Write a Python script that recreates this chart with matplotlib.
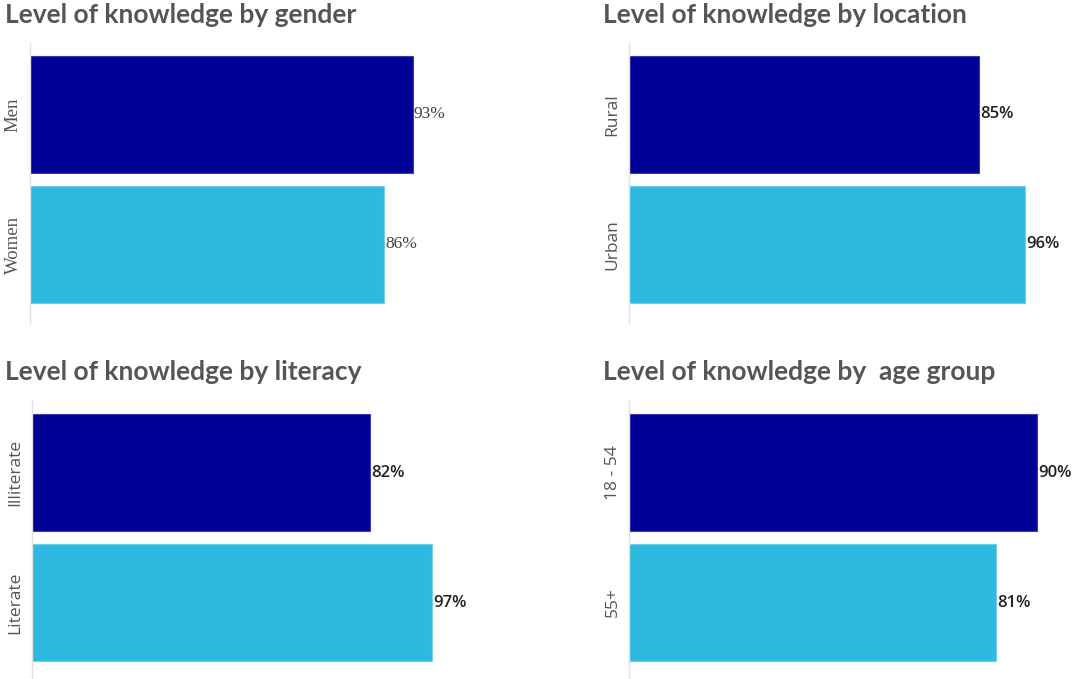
import matplotlib.pyplot as plt

# Survey results: share of respondents with knowledge, by group (%)
gender_labels = ["Men", "Women"]
gender_values = [93, 86]

location_labels = ["Rural", "Urban"]
location_values = [85, 96]

literacy_labels = ["Illiterate", "Literate"]
literacy_values = [82, 97]

age_labels = ["18 - 54", "55+"]
age_values = [90, 81]

titles = [
    "Level of knowledge by gender",
    "Level of knowledge by location",
    "Level of knowledge by literacy",
    "Level of knowledge by  age group",
]

DARK = "#000099"
LIGHT = "#2EBAE0"

W, H = 1072, 679
fig = plt.figure(figsize=(W / 100, H / 100), dpi=100)
fig.patch.set_facecolor("white")


def add_px_axes(x, y_top, w, h):
    return fig.add_axes([x / W, 1 - (y_top + h) / H, w / W, h / H])


def draw_panel(ax, labels, values, xmax, ylim, serif=False):
    colors = [DARK, LIGHT]
    edges = ["#3b3bb5", "#6fd0ec"]
    ax.barh(range(len(values)), values, height=0.9, color=colors,
            edgecolor=edges, linewidth=0.8)
    ax.set_xlim(0, xmax)
    ax.set_ylim(*ylim)
    ax.set_xticks([])
    ax.set_yticks(range(len(labels)))
    for s in ["top", "right", "bottom"]:
        ax.spines[s].set_visible(False)
    ax.spines["left"].set_color("#e2e2e2")
    ax.spines["left"].set_linewidth(1.0)
    ax.tick_params(axis="y", length=0, pad=6)
    if serif:
        ax.set_yticklabels(labels, rotation=90, va="center",
                           fontfamily="Liberation Serif", fontsize=13.5,
                           color="#555555")
        for i, v in enumerate(values):
            ax.text(v + 0.2, i, f"{v}%", va="center", ha="left",
                    fontfamily="Liberation Serif", fontsize=12.5,
                    color="#444444")
    else:
        ax.set_yticklabels(labels, rotation=90, va="center",
                           fontfamily="Open Sans", fontsize=12.5,
                           color="#555555")
        for i, v in enumerate(values):
            ax.text(v + 0.3, i, f"{v}%", va="center", ha="left",
                    fontfamily="Open Sans", fontweight="semibold",
                    fontsize=12, color="#222222")


top_ylim = (1.604, -0.55)
bot_ylim = (1.588, -0.558)

ax1 = add_px_axes(30, 43, 412, 280)
draw_panel(ax1, gender_labels, gender_values, 100, top_ylim, serif=True)

ax2 = add_px_axes(629, 43, 412, 280)
draw_panel(ax2, location_labels, location_values, 100, top_ylim)

ax3 = add_px_axes(32, 400, 412, 279)
draw_panel(ax3, literacy_labels, literacy_values, 100, bot_ylim)

ax4 = add_px_axes(629, 400, 430, 279)
draw_panel(ax4, age_labels, age_values, 430 / 4.53, bot_ylim)

title_pos = [(5, 15), (603, 15), (5, 372), (603, 372)]
for t, (x, y) in zip(titles, title_pos):
    fig.text(x / W, 1 - y / H, t, ha="left", va="center",
             fontfamily="Lato", fontweight="bold", fontsize=19,
             color="#555555")

fig.savefig("out.png", dpi=100, facecolor="white")
